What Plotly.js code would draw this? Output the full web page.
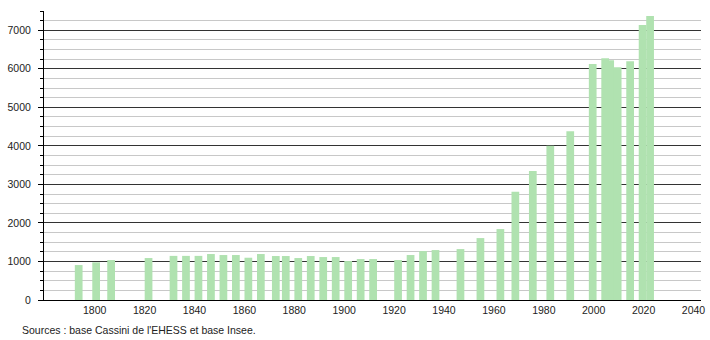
<!DOCTYPE html>
<html>
<head>
<meta charset="utf-8">
<script src="https://cdn.plot.ly/plotly-3.0.1.min.js"></script>
<style>html,body{margin:0;padding:0;background:#fff}#chart{width:710px;height:340px}</style>
</head>
<body>
<div id="chart"></div>
<script>
const years = [1793,1800,1806,1821,1831,1836,1841,1846,1851,1856,1861,1866,1872,1876,1881,1886,1891,1896,1901,1906,1911,1921,1926,1931,1936,1946,1954,1962,1968,1975,1982,1990,1999,2004,2006,2009,2014,2019,2022];
const population = [907,977,1037,1089,1145,1145,1145,1193,1167,1167,1097,1193,1141,1141,1089,1141,1115,1115,1011,1063,1063,1037,1167,1270,1296,1322,1607,1841,2808,3345,4001,4382,6127,6274,6222,6041,6197,7138,7371];
const xTickLabels = ['1800','1820','1840','1860','1880','1900','1920','1940','1960','1980','2000','2020','2040'];
const xTickVals = [1800,1820,1840,1860,1880,1900,1920,1940,1960,1980,2000,2020,2040];
const yTickVals = [0,1000,2000,3000,4000,5000,6000,7000];
const sourceText = "Sources : base Cassini de l'EHESS et base Insee.";

const trace = {
  type: 'bar',
  x: years,
  y: population,
  width: 3.1,
  offset: -0.95,
  marker: {color: 'rgb(176,226,176)', line: {width: 0}},
  hoverinfo: 'x+y'
};

const layout = {
  width: 710, height: 340,
  margin: {l: 44, r: 9, t: 11, b: 40},
  paper_bgcolor: '#fff', plot_bgcolor: '#fff',
  font: {family: '"Liberation Sans", Arial, sans-serif', size: 10.5, color: '#222'},
  showlegend: false,
  xaxis: {
    range: [1779.7, 2043],
    tickvals: xTickVals, ticktext: xTickLabels,
    showgrid: false, zeroline: false,
    showline: true, linecolor: '#000', linewidth: 1,
    ticks: '', ticklabelstandoff: 0,
    tickfont: {size: 10.5, color: '#222'}
  },
  yaxis: {
    range: [0, 7500],
    tickvals: yTickVals,
    showline: true, linecolor: '#000', linewidth: 1,
    ticks: 'outside', ticklen: 5, tickcolor: '#000', tickwidth: 1,
    ticklabelstandoff: 5,
    showgrid: true, gridcolor: '#333', gridwidth: 1,
    zeroline: false,
    minor: {dtick: 250, tick0: 0, ticks: 'outside', ticklen: 3, tickcolor: '#000', showgrid: true, gridcolor: '#c8c8c8', gridwidth: 1},
    tickfont: {size: 10.5, color: '#222'}
  },
  annotations: [{
    text: sourceText, xref: 'paper', yref: 'paper',
    x: -0.037, y: -0.075, xanchor: 'left', yanchor: 'top',
    showarrow: false, font: {size: 10.5, color: '#222'}
  }]
};

Plotly.newPlot('chart', [trace], layout, {displayModeBar: false, staticPlot: true});
</script>
</body>
</html>
